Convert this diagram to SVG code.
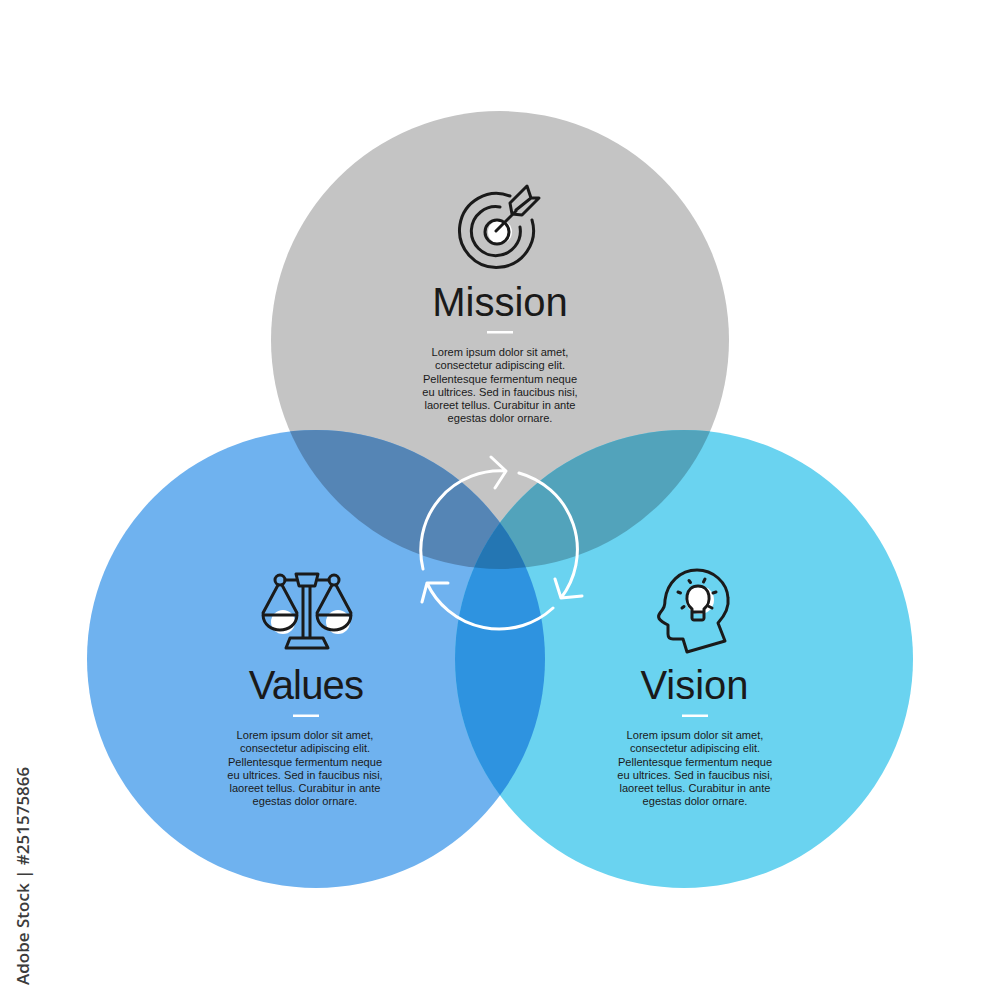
<svg xmlns="http://www.w3.org/2000/svg" width="1000" height="1000" viewBox="0 0 1000 1000">
<style>
.t{font-family:"Liberation Sans",Arial,sans-serif;text-anchor:middle;fill:#1a1a1a}
.h{font-size:40px}
.b{font-size:11.1px}
.i{fill:none;stroke:#1a1a1a;stroke-width:3;stroke-linecap:round;stroke-linejoin:round}
.a{fill:none;stroke:#fff;stroke-width:3;stroke-linecap:round;stroke-linejoin:round}
.d{fill:#fff}
</style>
<defs>
<clipPath id="ct"><circle cx="500" cy="340" r="229"/></clipPath>
<clipPath id="cl"><circle cx="316" cy="659" r="229"/></clipPath>
<clipPath id="cr"><circle cx="684" cy="659" r="229"/></clipPath>
</defs>
<rect width="1000" height="1000" fill="#fff"/>
<g id="venn">
<circle cx="500" cy="340" r="229" fill="#c4c4c4"/>
<circle cx="316" cy="659" r="229" fill="#6fb2ef"/>
<circle cx="684" cy="659" r="229" fill="#6ad3f0"/>
<g clip-path="url(#ct)"><circle cx="316" cy="659" r="229" fill="#5585b5"/><circle cx="684" cy="659" r="229" fill="#52a3bb"/></g>
<g clip-path="url(#cl)"><circle cx="684" cy="659" r="229" fill="#2e93e0"/></g>
<g clip-path="url(#ct)"><g clip-path="url(#cl)"><circle cx="684" cy="659" r="229" fill="#2476b3"/></g></g>
</g>
<g id="connectors">
<path class="a" d="M423 569A79.500 79.500 0 0 1 506 471M491 457L506 471L495 488"/>
<path class="a" d="M519 473A79.500 79.500 0 0 1 561 598M555 579L561 598L582 596"/>
<path class="a" d="M553 608A79.500 79.500 0 0 1 427 583M448 583L427 583L422 602"/>
</g>
<g id="mission">
<circle cx="500" cy="232" r="12" fill="#fff"/>
<path class="i" d="M510 196A37 37 0 1 0 532 220"/>
<path class="i" d="M500 207A24.500 24.500 0 1 0 520 227"/>
<circle class="i" cx="497" cy="232" r="12"/>
<path class="i" d="M496 231L516 211M510 203L527 186L531 198L539 198L522 215L512 214ZM516 210L531 198"/>
<text class="t h" x="500" y="316">Mission</text>
<rect class="d" x="487" y="331" width="26" height="2.500"/>
<g class="t b"><text x="500" y="356">Lorem ipsum dolor sit amet,</text><text x="500" y="369">consectetur adipiscing elit.</text><text x="500" y="382.500">Pellentesque fermentum neque</text><text x="500" y="396">eu ultrices. Sed in faucibus nisi,</text><text x="500" y="409">laoreet tellus. Curabitur in ante</text><text x="500" y="422">egestas dolor ornare.</text></g>
</g>
<g id="values">
<circle cx="283" cy="622" r="12" fill="#fff"/><circle cx="338" cy="622" r="12" fill="#fff"/>
<path class="i" d="M303 587V638M310 587V638M290 638H323L328 648H286ZM296 574H318L315 586H299ZM285 580H296M318 580H329"/>
<circle class="i" cx="280" cy="580" r="5"/><circle class="i" cx="334" cy="580" r="5"/>
<path class="i" d="M278 585L263 613M282 585L297 613M263 615H297M263 615C264 635 296 635 297 615"/>
<path class="i" d="M332 585L317 613M336 585L351 613M317 615H351M317 615C318 635 350 635 351 615"/>
<text class="t h" x="306" y="699" letter-spacing="-0.8">Values</text>
<rect class="d" x="293" y="714.500" width="26" height="2.500"/>
<g class="t b"><text x="305" y="739">Lorem ipsum dolor sit amet,</text><text x="305" y="752">consectetur adipiscing elit.</text><text x="305" y="765.500">Pellentesque fermentum neque</text><text x="305" y="779">eu ultrices. Sed in faucibus nisi,</text><text x="305" y="792">laoreet tellus. Curabitur in ante</text><text x="305" y="805">egestas dolor ornare.</text></g>
</g>
<g id="vision">
<circle cx="700" cy="600" r="14" fill="#fff"/>
<path class="i" d="M687 652L725 641L718 623C727 613 729 605 728 598C727 582 713 570 697 570C680 570 667 583 665 600C665 606 664 608 660 613C657 617 658 620 668 625V634C668 638 670 639 673 639H683Z"/>
<path class="i" d="M692 609C684 603 685 586 698 586C711 586 712 603 704 609V618C704 619 703 620 702 620H694C693 620 692 619 692 618ZM692 612H704"/>
<path class="i" d="M689 580.500L690.500 582.500M705 579L703.500 582M678 592L680.500 593M716 592L713 593M682 608L684 606.500M712 608L709 606.500"/>
<text class="t h" x="694.500" y="699">Vision</text>
<rect class="d" x="682" y="714.500" width="26" height="2.500"/>
<g class="t b"><text x="695" y="739">Lorem ipsum dolor sit amet,</text><text x="695" y="752">consectetur adipiscing elit.</text><text x="695" y="765.500">Pellentesque fermentum neque</text><text x="695" y="779">eu ultrices. Sed in faucibus nisi,</text><text x="695" y="792">laoreet tellus. Curabitur in ante</text><text x="695" y="805">egestas dolor ornare.</text></g>
</g>
<text transform="translate(29 985) rotate(-90)" font-family="'Open Sans','Noto Sans',sans-serif" font-size="17" font-weight="600" fill="#3c3c3c">Adobe Stock | #251575866</text>
</svg>
